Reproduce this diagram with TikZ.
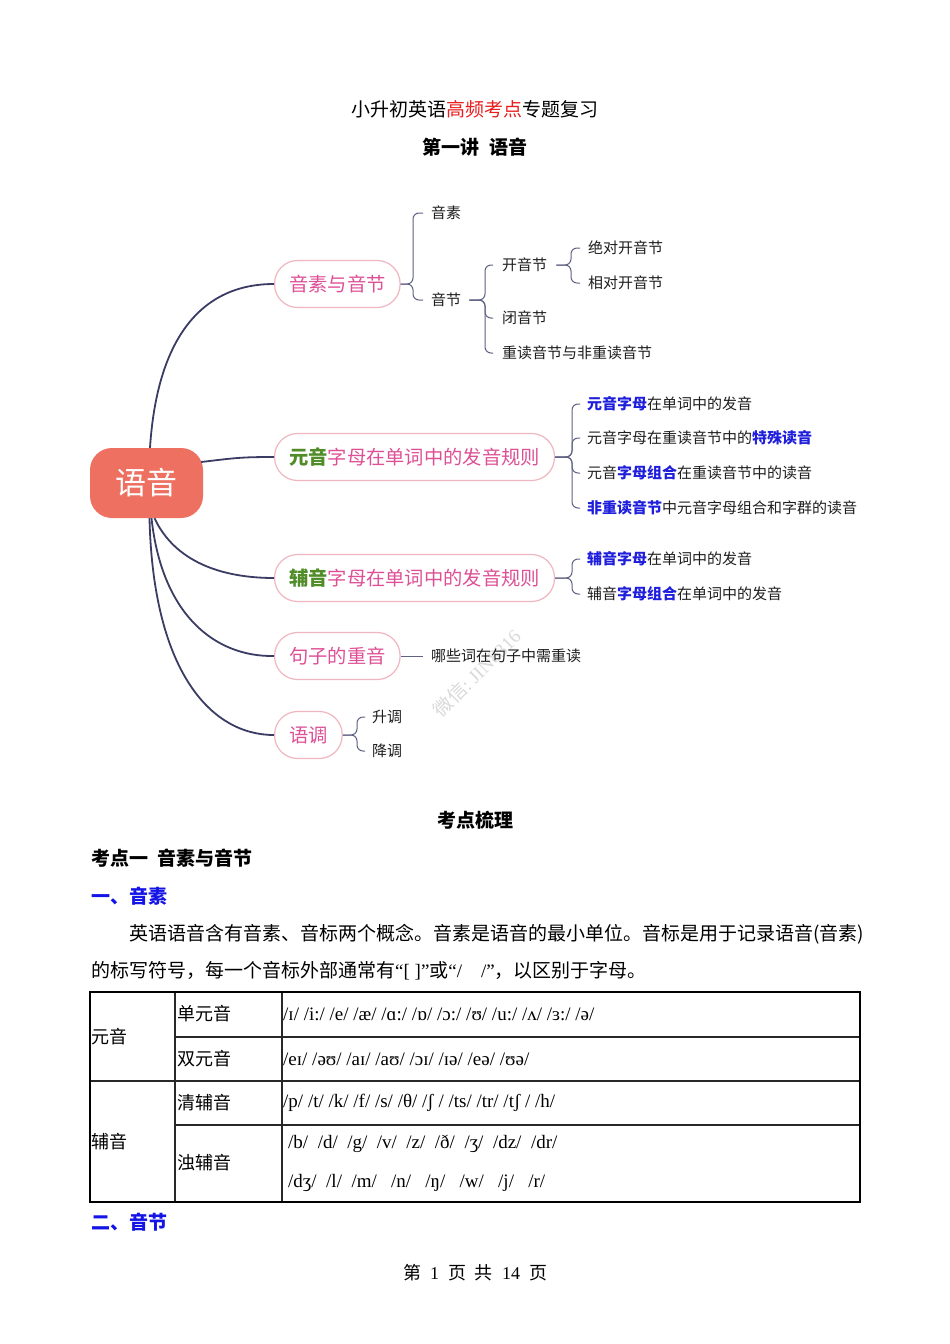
\documentclass[tikz,border=0pt]{standalone}
\usepackage{fontspec}
\setmainfont{Liberation Serif}
\newfontfamily\cjk{Noto Sans CJK SC}
\newfontfamily\ipa{Liberation Serif}
\newcommand\myfs[1]{\fontsize{#1}{#1}\selectfont}
\definecolor{rootc}{RGB}{238,112,96}
\definecolor{navy}{RGB}{58,60,100}
\definecolor{pinkb}{RGB}{240,182,192}
\definecolor{pinkt}{RGB}{222,80,150}
\definecolor{greent}{RGB}{80,140,40}
\definecolor{bluet}{RGB}{30,30,220}
\definecolor{braceg}{RGB}{95,98,130}
\definecolor{leafc}{RGB}{30,30,30}
\definecolor{titlered}{RGB}{232,30,30}
\definecolor{headblue}{RGB}{20,20,230}
\definecolor{tabline}{RGB}{40,40,40}
\tikzset{
  central/.style={fill=rootc, rounded corners=22pt, minimum width=113pt, minimum height=70pt, text=white, font=\cjk\myfs{31}, inner sep=0pt},
  branch/.style={draw=pinkb, line width=1.2pt, rounded corners=23pt, minimum height=47pt, inner xsep=14.5pt, inner ysep=0pt, text=pinkt, font=\cjk\myfs{19.3}, anchor=west, fill=white},
  leaf/.style={anchor=west, inner sep=0pt, font=\cjk\myfs{15}, text=leafc},
  trunk/.style={draw=navy, line width=1.8pt},
  brace/.style={draw=braceg, line width=1pt, rounded corners=6pt},
  txt/.style={anchor=west, inner sep=0pt, font=\cjk\myfs{19}, text=black},
  tab/.style={anchor=west, inner sep=0pt, font=\cjk\myfs{18}, text=black},
  ipat/.style={anchor=west, inner sep=0pt, font=\ipa\myfs{19}, text=black},
  tabrule/.style={draw=tabline, line width=1.6pt}
}
\begin{document}
\begin{tikzpicture}[x=1pt,y=-1pt]
\useasboundingbox (0,0) rectangle (950,1344);
\fill[white] (0,0) rectangle (950,1344);
% titles
\node[font=\cjk\myfs{19}] (title) at (475,109) {小升初英语{\color{titlered}高频考点}专题复习};
\node[font=\cjk\bfseries\myfs{19}] (subtitle) at (475,147) {第一讲\hspace{0.5em}语音};
% watermark
\node[rotate=45, text=black!15, font=\myfs{19}] (wm) at (477,673) {{\cjk 微信}:\ JIN8316};
% mind map
\node[central] (root) at (146.5,483) {语音};
\node[branch] (b1) at (274,284) {音素与音节};
\node[branch] (b2) at (274,457) {{\bfseries\color{greent}元音}字母在单词中的发音规则};
\node[branch] (b3) at (274,578) {{\bfseries\color{greent}辅音}字母在单词中的发音规则};
\node[branch] (b4) at (274,656) {句子的重音};
\node[branch] (b5) at (274,735) {语调};
\draw[trunk] ([xshift=3.5pt]root.north) .. controls (157,340) and (200,284) .. (b1.west);
\draw[trunk] ([xshift=-2pt,yshift=21pt]root.east) .. controls (235,458) and (240,457) .. (b2.west);
\draw[trunk] ([xshift=8pt]root.south) .. controls (175,562) and (222,578) .. (b3.west);
\draw[trunk] ([xshift=5pt]root.south) .. controls (162,615) and (215,657) .. (b4.west);
\draw[trunk] ([xshift=3pt]root.south) .. controls (153,670) and (210,735) .. (b5.west);
% leaves
\node[leaf] (l11) at (431,213) {音素};
\node[leaf] (l12) at (431,300) {音节};
\node[leaf] (l121) at (502,265) {开音节};
\node[leaf] (l122) at (502,318) {闭音节};
\node[leaf] (l123) at (502,353) {重读音节与非重读音节};
\node[leaf] (l1211) at (588,248) {绝对开音节};
\node[leaf] (l1212) at (588,283) {相对开音节};
\node[leaf] (l21) at (587,404) {{\bfseries\color{bluet}元音字母}在单词中的发音};
\node[leaf] (l22) at (587,438) {元音字母在重读音节中的{\bfseries\color{bluet}特殊读音}};
\node[leaf] (l23) at (587,473) {元音{\bfseries\color{bluet}字母组合}在重读音节中的读音};
\node[leaf] (l24) at (587,508) {{\bfseries\color{bluet}非重读音节}中元音字母组合和字群的读音};
\node[leaf] (l31) at (587,559) {{\bfseries\color{bluet}辅音字母}在单词中的发音};
\node[leaf] (l32) at (587,594) {辅音{\bfseries\color{bluet}字母组合}在单词中的发音};
\node[leaf] (l41) at (431,656) {哪些词在句子中需重读};
\node[leaf] (l51) at (372,717) {升调};
\node[leaf] (l52) at (372,751) {降调};
% brace junctions
\coordinate (j1) at (413,0);
\coordinate (j2) at (485,0);
\coordinate (j3) at (571,0);
\coordinate (j4) at (572,0);
\coordinate (j5) at (572,0);
\coordinate (j6) at (357,0);
\draw[brace] (b1.east) -- (b1.east -| j1) |- ([xshift=-8pt]l11.west);
\draw[brace] (b1.east) -- (b1.east -| j1) |- ([xshift=-8pt]l12.west);
\draw[brace] ([xshift=8pt]l12.east) -- (l12.east -| j2) |- ([xshift=-9pt]l121.west);
\draw[brace] ([xshift=8pt]l12.east) -- (l12.east -| j2) |- ([xshift=-9pt]l122.west);
\draw[brace] ([xshift=8pt]l12.east) -- (l12.east -| j2) |- ([xshift=-9pt]l123.west);
\draw[brace] ([xshift=9pt]l121.east) -- (l121.east -| j3) |- ([xshift=-8pt]l1211.west);
\draw[brace] ([xshift=9pt]l121.east) -- (l121.east -| j3) |- ([xshift=-8pt]l1212.west);
\draw[brace] (b2.east) -- (b2.east -| j4) |- ([xshift=-7pt]l21.west);
\draw[brace] (b2.east) -- (b2.east -| j4) |- ([xshift=-7pt]l22.west);
\draw[brace] (b2.east) -- (b2.east -| j4) |- ([xshift=-7pt]l23.west);
\draw[brace] (b2.east) -- (b2.east -| j4) |- ([xshift=-7pt]l24.west);
\draw[brace] (b3.east) -- (b3.east -| j5) |- ([xshift=-7pt]l31.west);
\draw[brace] (b3.east) -- (b3.east -| j5) |- ([xshift=-7pt]l32.west);
\draw[brace] (b4.east) -- ([xshift=-8pt]l41.west);
\draw[brace] (b5.east) -- (b5.east -| j6) |- ([xshift=-7pt]l51.west);
\draw[brace] (b5.east) -- (b5.east -| j6) |- ([xshift=-7pt]l52.west);
% lower text
\node[font=\cjk\bfseries\myfs{19}] (h1) at (475,820) {考点梳理};
\node[txt, font=\cjk\bfseries\myfs{19}] (h2) at (91,858) {考点一\hspace{0.5em}音素与音节};
\node[txt, font=\cjk\bfseries\myfs{19}, text=headblue] (h3) at (91,896) {一、音素};
\node[txt] (p1) at (129,934) {英语语音含有音素、音标两个概念。音素是语音的最小单位。音标是用于记录语音(音素)};
\node[txt] (p2) at (91,971) {的标写符号，每一个音标外部通常有{\ipa “[ ]”}或{\ipa “/\hspace{1em}/”}，以区别于字母。};
% table
\draw[tabrule] (175,1037) -- (860,1037);
\draw[tabrule] (90,1081) -- (860,1081);
\draw[tabrule] (175,1125) -- (860,1125);
\draw[tabrule] (175,992) -- (175,1202);
\draw[tabrule] (282,992) -- (282,1202);
\draw[draw=black, line width=2pt] (90,992) rectangle (860,1202);
\node[tab] (t1) at (91,1037) {元音};
\node[tab] (t2) at (91,1142) {辅音};
\node[tab] (t3) at (177,1014) {单元音};
\node[tab] (t4) at (177,1059) {双元音};
\node[tab] (t5) at (177,1103) {清辅音};
\node[tab] (t6) at (177,1163) {浊辅音};
\node[ipat] (i1) at (283,1014) {/ɪ/ /i:/ /e/ /æ/ /ɑ:/ /ɒ/ /ɔ:/ /ʊ/ /u:/ /ʌ/ /ɜ:/ /ə/};
\node[ipat] (i2) at (283,1059) {/eɪ/ /əʊ/ /aɪ/ /aʊ/ /ɔɪ/ /ɪə/ /eə/ /ʊə/};
\node[ipat] (i3) at (283,1103) {/p/ /t/ /k/ /f/ /s/ /θ/ /ʃ / /ts/ /tr/ /tʃ / /h/};
\node[ipat] (i4) at (288,1144) {/b/\ \ /d/\ \ /g/\ \ /v/\ \ /z/\ \ /ð/\ \ /ʒ/\ \ /dz/\ \ /dr/};
\node[ipat] (i5) at (288,1183) {/dʒ/\ \ /l/\ \ /m/\ \ \ /n/\ \ \ /ŋ/\ \ \ /w/\ \ \ /j/\ \ \ /r/};
\node[txt, font=\cjk\bfseries\myfs{19}, text=headblue] (h4) at (91,1222) {二、音节};
% footer
\node[font=\myfs{18}] (foot) at (475,1273) {{\cjk 第}\ \ 1\ \ {\cjk 页}\ \ {\cjk 共}\ \ 14\ \ {\cjk 页}};
\end{tikzpicture}
\end{document}
